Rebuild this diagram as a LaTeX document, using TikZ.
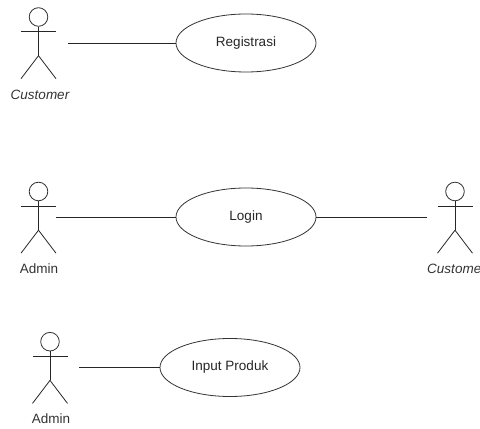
\documentclass[tikz,border=0pt]{standalone}
\usepackage{fontspec}
\setmainfont{Liberation Sans}
\tikzset{
	usecase/.style={draw=black!80, line width=0.8pt, ellipse, minimum width=140pt, minimum height=58pt, inner sep=0pt, font=\fontsize{13.5}{15}\selectfont, text=black!85},
	actorhead/.style={draw=black!80, line width=0.8pt, circle, minimum size=18.6pt, inner sep=0pt},
	actorlabel/.style={font=\fontsize{13.5}{15}\selectfont, text=black!80},
	link/.style={line width=0.8pt, draw=black!85}
}
\usetikzlibrary{shapes.geometric}
% stick figure: name, x, y of the head centre
\newcommand{\actorfig}[3]{
	\node[actorhead] (#1) at (#2, #3) {};
	\draw[link] (#1.south) -- ++(0, -29) coordinate (#1hip);
	\draw[link] (#2-17.5, #3-14.5) -- (#2+17.5, #3-14.5);
	\draw[link] (#1hip) -- ++(-17.5, -23);
	\draw[link] (#1hip) -- ++(17.5, -23);
}
\begin{document}
\begin{tikzpicture}[x=1pt, y=1pt]
	\useasboundingbox (0, 0) rectangle (480, 429);

	% registrasi
	\actorfig{custA}{38.5}{412}
	\node[actorlabel, font=\fontsize{13.5}{15}\selectfont\itshape] (custAlabel) at (40, 334.5) {Customer};
	\node[usecase] (registrasi) at (246, 386) {Registrasi};
	\coordinate (custAfree) at (68, 386);
	\path (custAfree) edge[link] (registrasi);

	% login
	\actorfig{adminA}{38.5}{237.5}
	\node[actorlabel] (adminAlabel) at (39, 160) {Admin};
	\node[usecase] (login) at (246, 212) {Login};
	\coordinate (adminAfree) at (56, 212);
	\path (adminAfree) edge[link] (login);

	\actorfig{custB}{455}{237.5}
	\node[actorlabel, font=\fontsize{13.5}{15}\selectfont\itshape] (custBlabel) at (456.5, 160) {Customer};
	\coordinate (custBfree) at (427, 212);
	\path (login) edge[link] (custBfree);

	% input produk
	\actorfig{adminB}{50}{87.3}
	\node[actorlabel] (adminBlabel) at (51, 10) {Admin};
	\node[usecase] (produk) at (230, 61.5) {Input Produk};
	\coordinate (adminBfree) at (79, 61.5);
	\path (adminBfree) edge[link] (produk);
\end{tikzpicture}
\end{document}
